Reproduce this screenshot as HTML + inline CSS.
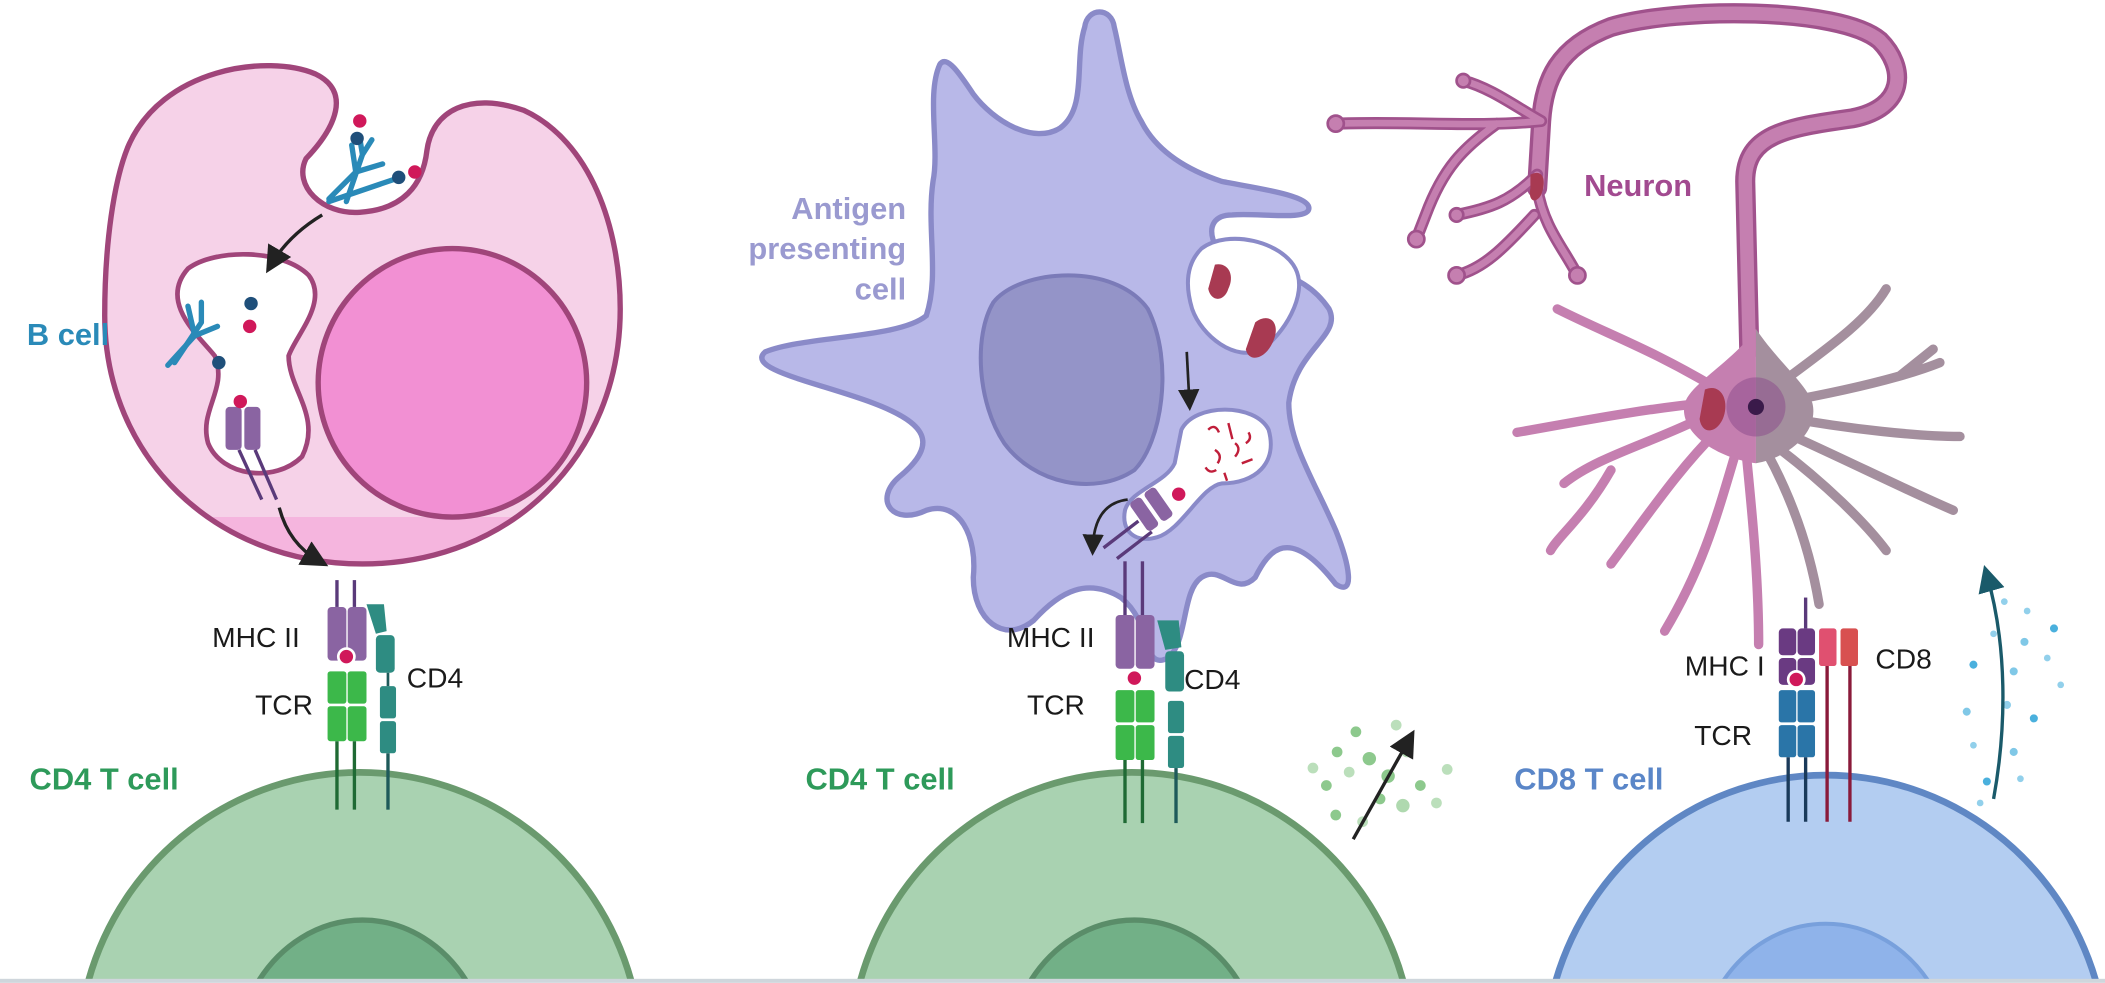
<!DOCTYPE html>
<html><head><meta charset="utf-8"><style>
html,body{margin:0;padding:0;background:#fff;width:2105px;height:983px;overflow:hidden;}
svg{display:block;overflow:hidden;}
text{font-family:"Liberation Sans",sans-serif;}
</style></head><body>
<svg width="2105" height="983" viewBox="0 0 1568 732" xmlns="http://www.w3.org/2000/svg">
<defs>
<marker id="ah" markerWidth="8" markerHeight="8" refX="5" refY="4" orient="auto" markerUnits="strokeWidth"><path d="M0,0 L8,4 L0,8 z" fill="#222"/></marker>
<marker id="ah2" markerWidth="8" markerHeight="8" refX="5" refY="4" orient="auto" markerUnits="strokeWidth"><path d="M0,0 L8,4 L0,8 z" fill="#1a5a6a"/></marker>
<clipPath id="bclip"><path id="bpath" d="M95,110 C120,50 200,40 235,55 C262,68 250,95 228,118 C218,138 240,160 268,158 C300,156 315,138 318,112 C322,82 350,68 390,82 C440,105 462,170 462,230 C462,340 380,420 270,420 C160,420 78,340 78,235 C78,180 85,135 95,110 Z"/></clipPath>
</defs>
<rect width="1568" height="732" fill="#fff"/>

<!-- T cells -->
<path d="M66,730 A210,213 0 0 1 470,730 Z" fill="#a9d2b1"/>
<path d="M66,730 A210,213 0 0 1 470,730" fill="none" stroke="#6a9a6e" stroke-width="5"/>
<path d="M193,730 A95,108 0 0 1 347,730 Z" fill="#72b087"/>
<path d="M193,730 A95,108 0 0 1 347,730" fill="none" stroke="#5a8d69" stroke-width="4"/>
<path d="M641,730 A210,213 0 0 1 1045,730 Z" fill="#a9d2b1"/>
<path d="M641,730 A210,213 0 0 1 1045,730" fill="none" stroke="#6a9a6e" stroke-width="5"/>
<path d="M768,730 A95,108 0 0 1 922,730 Z" fill="#72b087"/>
<path d="M768,730 A95,108 0 0 1 922,730" fill="none" stroke="#5a8d69" stroke-width="4"/>
<path d="M1159,730 A210,215 0 0 1 1561,730 Z" fill="#b3cdf1"/>
<path d="M1159,730 A210,215 0 0 1 1561,730" fill="none" stroke="#5f87c4" stroke-width="5"/>
<path d="M1284,730 A95,105 0 0 1 1436,730 Z" fill="#8fb3ea"/>
<path d="M1284,730 A95,105 0 0 1 1436,730" fill="none" stroke="#78a0dc" stroke-width="3"/>
<rect x="0" y="729" width="1568" height="3" fill="#cfd6dc"/>

<!-- B cell -->
<use href="#bpath" fill="#f6d2e8"/>
<rect x="60" y="385" width="420" height="50" fill="#f5b5de" clip-path="url(#bclip)"/>
<use href="#bpath" fill="none" stroke="#a0457a" stroke-width="4"/>
<circle cx="337" cy="285" r="100" fill="#f290d3" stroke="#a0457a" stroke-width="4"/>
<path d="M140,200 C160,185 210,185 230,205 C245,225 220,250 215,265 C215,290 240,310 225,340 C205,360 165,355 155,330 C148,305 170,290 160,265 C148,250 118,225 140,200 Z" fill="#fff" stroke="#a0457a" stroke-width="3.5"/>
<g stroke="#2a8ab8" stroke-width="4" fill="none" stroke-linecap="round">
<path d="M245,148 L265,128 M265,128 L262,108 M265,128 L285,122 M245,150 L298,132"/>
<path d="M258,150 L270,115 M270,115 L268,103 M270,115 L277,104"/>
<path d="M125,272 L145,250 M145,250 L140,228 M145,250 L162,243"/>
<path d="M130,270 L150,240 M150,240 L150,225"/>
</g>
<circle cx="268" cy="90" r="5" fill="#d0185a"/><circle cx="266" cy="103" r="5" fill="#1f4f7a"/>
<circle cx="309" cy="128" r="5" fill="#d0185a"/><circle cx="297" cy="132" r="5" fill="#1f4f7a"/>
<circle cx="187" cy="226" r="5" fill="#1f4f7a"/><circle cx="186" cy="243" r="5" fill="#d0185a"/><circle cx="163" cy="270" r="5" fill="#1f4f7a"/>
<g><rect x="168" y="303" width="12" height="32" rx="3" fill="#8a64a2"/><rect x="182" y="303" width="12" height="32" rx="3" fill="#8a64a2"/>
<line x1="178" y1="335" x2="195" y2="372" stroke="#5a3a7a" stroke-width="2.5"/><line x1="190" y1="335" x2="206" y2="372" stroke="#5a3a7a" stroke-width="2.5"/>
<circle cx="179" cy="299" r="5" fill="#d0185a"/></g>
<path d="M240,160 Q215,175 202,197" fill="none" stroke="#222" stroke-width="2.5" marker-end="url(#ah)"/>
<path d="M208,378 Q215,405 238,418" fill="none" stroke="#222" stroke-width="2.5" marker-end="url(#ah)"/>

<!-- APC -->
<path d="M700,48 C690,70 700,110 695,135 C690,170 700,205 690,235 C670,252 600,250 570,262 C555,275 610,285 650,300 C690,315 700,330 670,355 C650,372 665,392 690,380 C715,372 728,400 725,430 C725,462 748,480 770,462 C790,440 810,430 835,445 C860,465 850,500 870,490 C885,478 880,440 895,430 C910,420 920,445 935,430 C945,410 960,390 995,435 C1010,445 1005,420 995,395 C980,360 960,330 960,300 C965,260 1000,250 990,230 C970,200 935,200 925,200 C905,195 890,160 918,160 C935,158 975,165 975,155 C975,145 935,140 910,135 C880,125 860,110 850,90 C838,70 835,40 830,20 C828,5 810,5 808,20 C800,45 810,80 790,95 C770,108 740,90 725,70 C715,55 705,40 700,48 Z" fill="#b8b8e8" stroke="#8a8ac8" stroke-width="4"/>
<path d="M895,185 C915,170 955,180 965,200 C975,220 955,250 940,260 C920,270 895,250 888,230 C882,210 885,195 895,185 Z" fill="#fff" stroke="#8a8ac8" stroke-width="3"/>
<path d="M740,225 C760,200 830,195 855,230 C875,270 865,330 845,350 C815,370 770,360 748,330 C728,300 725,250 740,225 Z" fill="#9494c8" stroke="#7b7bb8" stroke-width="3"/>
<path d="M905,197 C915,195 920,205 915,215 C912,225 902,225 900,215 Z" fill="#a83a52"/>
<path d="M935,240 C945,232 955,240 948,255 C942,268 930,270 928,260 Z" fill="#a83a52"/>
<path d="M880,320 C890,300 935,300 945,320 C952,345 935,360 910,360 C895,362 880,395 862,400 C845,405 835,395 838,380 C842,365 868,360 875,345 Z" fill="#fff" stroke="#8a8ac8" stroke-width="3"/>
<g stroke="#c01e3a" stroke-width="1.8" fill="none"><path d="M900,320 q5,-5 8,2 M915,315 l3,12 M905,335 q6,4 2,10 M920,330 q5,4 0,10 M925,345 l8,-3 M898,348 q3,5 8,2 M930,322 q3,5 -2,8 M912,352 l2,6"/></g>
<g transform="rotate(-35 860 380)"><rect x="847" y="365" width="10" height="26" rx="3" fill="#8a64a2"/><rect x="860" y="365" width="10" height="26" rx="3" fill="#8a64a2"/></g>
<line x1="848" y1="388" x2="822" y2="408" stroke="#5a3a7a" stroke-width="2.5"/><line x1="858" y1="396" x2="832" y2="416" stroke="#5a3a7a" stroke-width="2.5"/>
<circle cx="878" cy="368" r="5" fill="#d0185a"/>
<path d="M884,262 L886,300" stroke="#222" stroke-width="2" marker-end="url(#ah)"/>
<path d="M840,372 Q815,375 814,408" fill="none" stroke="#222" stroke-width="2" marker-end="url(#ah)"/>

<!-- Neuron -->
<g fill="none" stroke="#c57fb0" stroke-linecap="round">
<path d="M1303,260 L1300,135 C1300,100 1330,95 1380,88 C1420,80 1420,50 1400,30 C1370,5 1250,5 1200,20 C1160,35 1150,60 1148,90 L1145,140" stroke="#a0528c" stroke-width="15"/>
<path d="M1303,260 L1300,135 C1300,100 1330,95 1380,88 C1420,80 1420,50 1400,30 C1370,5 1250,5 1200,20 C1160,35 1150,60 1148,90 L1145,140" stroke-width="10"/>
<g stroke="#a0528c" stroke-width="9"><path d="M1148,90 C1100,95 1050,90 995,92 M1115,92 C1090,110 1075,125 1062,160 M1062,160 L1055,178 M1145,130 C1125,150 1110,155 1085,160 M1145,140 C1150,170 1165,185 1175,205 M1143,160 C1120,185 1105,200 1085,205 M1148,90 C1130,80 1110,65 1090,60"/></g>
<g stroke-width="5"><path d="M1148,90 C1100,95 1050,90 995,92 M1115,92 C1090,110 1075,125 1062,160 M1062,160 L1055,178 M1145,130 C1125,150 1110,155 1085,160 M1145,140 C1150,170 1165,185 1175,205 M1143,160 C1120,185 1105,200 1085,205 M1148,90 C1130,80 1110,65 1090,60"/></g>
</g>
<g fill="#c57fb0" stroke="#a0528c" stroke-width="2"><circle cx="995" cy="92" r="6"/><circle cx="1055" cy="178" r="6"/><circle cx="1085" cy="160" r="5"/><circle cx="1175" cy="205" r="6"/><circle cx="1085" cy="205" r="6"/><circle cx="1090" cy="60" r="5"/></g>
<path d="M1140,130 C1150,125 1152,135 1148,145 C1144,152 1138,150 1140,140 Z" fill="#a83a52"/>
<g stroke-linecap="round" fill="none">
<g stroke="#c57fb0" stroke-width="7"><path d="M1280,290 C1230,260 1200,250 1160,230 M1270,300 C1220,305 1170,315 1130,322 M1270,310 C1230,330 1190,340 1165,360 M1280,320 C1250,350 1230,380 1200,420 M1295,330 C1280,380 1270,420 1240,470 M1300,330 C1305,380 1310,430 1310,480 M1200,350 C1180,385 1160,400 1155,410"/></g>
<g stroke="#a48f9e" stroke-width="7"><path d="M1320,290 C1360,260 1390,240 1405,215 M1325,300 C1380,290 1420,280 1445,270 M1325,310 C1380,320 1430,325 1460,325 M1325,320 C1370,340 1420,365 1455,380 M1320,330 C1360,360 1390,390 1405,410 M1315,335 C1340,380 1350,420 1355,450 M1415,280 L1440,260"/></g>
</g>
<path d="M1308,245 C1290,270 1260,285 1255,300 C1250,320 1275,340 1308,345 Z" fill="#c57fb0"/>
<path d="M1308,245 C1325,270 1345,285 1350,300 C1355,320 1335,340 1308,345 Z" fill="#a48f9e"/>
<circle cx="1308" cy="303" r="22" fill="#8a4a8a" opacity="0.5"/>
<circle cx="1308" cy="303" r="6" fill="#3a1a4a"/>
<path d="M1270,290 C1282,285 1288,298 1284,310 C1280,322 1268,325 1266,312 Z" fill="#a83a52"/>

<!-- left receptors -->
<g>
<line x1="251" y1="432" x2="251" y2="452" stroke="#5a3a7a" stroke-width="2.5"/><line x1="264" y1="432" x2="264" y2="452" stroke="#5a3a7a" stroke-width="2.5"/>
<rect x="244" y="452" width="14" height="40" rx="3" fill="#8a64a2"/><rect x="259" y="452" width="14" height="40" rx="3" fill="#8a64a2"/>
<circle cx="258" cy="489" r="7" fill="#fff"/><circle cx="258" cy="489" r="5" fill="#d0185a"/>
<rect x="244" y="500" width="14" height="24" rx="2" fill="#3cb84a"/><rect x="259" y="500" width="14" height="24" rx="2" fill="#3cb84a"/>
<rect x="244" y="526" width="14" height="26" rx="2" fill="#3cb84a"/><rect x="259" y="526" width="14" height="26" rx="2" fill="#3cb84a"/>
<line x1="251" y1="552" x2="251" y2="603" stroke="#1f6a34" stroke-width="2.5"/><line x1="264" y1="552" x2="264" y2="603" stroke="#1f6a34" stroke-width="2.5"/>
<path d="M273,450 L286,450 L288,470 L280,472 Z" fill="#2e8c82"/>
<rect x="280" y="473" width="14" height="28" rx="3" fill="#2e8c82"/>
<rect x="283" y="511" width="12" height="24" rx="2" fill="#2e8c82"/><rect x="283" y="537" width="12" height="24" rx="2" fill="#2e8c82"/>
<line x1="289" y1="501" x2="289" y2="511" stroke="#1e5a5a" stroke-width="2"/>
<line x1="289" y1="561" x2="289" y2="603" stroke="#1e5a5a" stroke-width="2.5"/>
</g>
<!-- middle receptors -->
<g>
<line x1="838" y1="418" x2="838" y2="458" stroke="#5a3a7a" stroke-width="2.5"/><line x1="851" y1="418" x2="851" y2="458" stroke="#5a3a7a" stroke-width="2.5"/>
<rect x="831" y="458" width="14" height="40" rx="3" fill="#8a64a2"/><rect x="846" y="458" width="14" height="40" rx="3" fill="#8a64a2"/>
<circle cx="845" cy="505" r="7" fill="#fff"/><circle cx="845" cy="505" r="5" fill="#d0185a"/>
<rect x="831" y="514" width="14" height="24" rx="2" fill="#3cb84a"/><rect x="846" y="514" width="14" height="24" rx="2" fill="#3cb84a"/>
<rect x="831" y="540" width="14" height="26" rx="2" fill="#3cb84a"/><rect x="846" y="540" width="14" height="26" rx="2" fill="#3cb84a"/>
<line x1="838" y1="566" x2="838" y2="613" stroke="#1f6a34" stroke-width="2.5"/><line x1="851" y1="566" x2="851" y2="613" stroke="#1f6a34" stroke-width="2.5"/>
<path d="M862,462 L878,462 L880,482 L868,484 Z" fill="#2e8c82"/>
<rect x="868" y="485" width="14" height="30" rx="3" fill="#2e8c82"/>
<rect x="870" y="522" width="12" height="24" rx="2" fill="#2e8c82"/><rect x="870" y="548" width="12" height="24" rx="2" fill="#2e8c82"/>
<line x1="876" y1="572" x2="876" y2="613" stroke="#1e5a5a" stroke-width="2.5"/>
</g>
<!-- right receptors -->
<g>
<line x1="1345" y1="445" x2="1345" y2="468" stroke="#5a3a7a" stroke-width="2.5"/>
<rect x="1325" y="468" width="13" height="20" rx="3" fill="#6a3a82"/><rect x="1339" y="468" width="13" height="20" rx="3" fill="#6a3a82"/>
<rect x="1325" y="490" width="13" height="20" rx="3" fill="#6a3a82"/><rect x="1339" y="490" width="13" height="20" rx="3" fill="#6a3a82"/>
<circle cx="1338" cy="506" r="7" fill="#fff"/><circle cx="1338" cy="506" r="5" fill="#d0185a"/>
<rect x="1325" y="514" width="13" height="24" rx="2" fill="#2a75a8"/><rect x="1339" y="514" width="13" height="24" rx="2" fill="#2a75a8"/>
<rect x="1325" y="540" width="13" height="24" rx="2" fill="#2a75a8"/><rect x="1339" y="540" width="13" height="24" rx="2" fill="#2a75a8"/>
<line x1="1332" y1="564" x2="1332" y2="612" stroke="#1a3a5a" stroke-width="2.5"/><line x1="1345" y1="564" x2="1345" y2="612" stroke="#1a3a5a" stroke-width="2.5"/>
<rect x="1355" y="468" width="13" height="28" rx="2" fill="#e05070"/><rect x="1371" y="468" width="13" height="28" rx="2" fill="#d85050"/>
<line x1="1361" y1="496" x2="1361" y2="612" stroke="#8a1a3a" stroke-width="2.5"/><line x1="1378" y1="496" x2="1378" y2="612" stroke="#8a1a3a" stroke-width="2.5"/>
</g>

<g fill="#8dc98d">
<circle cx="978" cy="572" r="4" opacity=".6"/><circle cx="996" cy="560" r="4"/><circle cx="1010" cy="545" r="4"/><circle cx="1020" cy="565" r="5"/><circle cx="988" cy="585" r="4"/><circle cx="1005" cy="575" r="4" opacity=".6"/><circle cx="1034" cy="578" r="5"/><circle cx="1048" cy="560" r="4" opacity=".7"/><circle cx="1058" cy="585" r="4"/><circle cx="1078" cy="573" r="4" opacity=".6"/><circle cx="1028" cy="595" r="4"/><circle cx="1045" cy="600" r="5" opacity=".7"/><circle cx="1070" cy="598" r="4" opacity=".6"/><circle cx="995" cy="607" r="4"/><circle cx="1015" cy="612" r="4" opacity=".6"/><circle cx="1040" cy="540" r="4" opacity=".6"/>
</g>
<path d="M1008,625 L1050,550" stroke="#222" stroke-width="2.5" marker-end="url(#ah)"/>
<g fill="#4ab0dd">
<circle cx="1493" cy="448" r="2.5" opacity=".6"/><circle cx="1510" cy="455" r="2.5" opacity=".6"/><circle cx="1530" cy="468" r="3"/><circle cx="1485" cy="472" r="2.5" opacity=".6"/><circle cx="1508" cy="478" r="3" opacity=".7"/><circle cx="1470" cy="495" r="3"/><circle cx="1500" cy="500" r="3" opacity=".7"/><circle cx="1525" cy="490" r="2.5" opacity=".6"/><circle cx="1535" cy="510" r="2.5" opacity=".6"/><circle cx="1465" cy="530" r="3" opacity=".7"/><circle cx="1495" cy="525" r="3" opacity=".6"/><circle cx="1515" cy="535" r="3"/><circle cx="1470" cy="555" r="2.5" opacity=".6"/><circle cx="1500" cy="560" r="3" opacity=".7"/><circle cx="1480" cy="582" r="3"/><circle cx="1505" cy="580" r="2.5" opacity=".6"/><circle cx="1475" cy="598" r="2.5" opacity=".6"/>
</g>
<path d="M1485,595 C1495,540 1495,480 1480,428" fill="none" stroke="#1a5a6a" stroke-width="2.5" marker-end="url(#ah2)"/>

<g font-size="21" fill="#1a1a1a">
<text x="158" y="482">MHC II</text><text x="190" y="532">TCR</text><text x="303" y="512">CD4</text>
<text x="750" y="482">MHC II</text><text x="765" y="532">TCR</text><text x="882" y="513">CD4</text>
<text x="1255" y="503">MHC I</text><text x="1262" y="555">TCR</text><text x="1397" y="498">CD8</text>
</g>
<g font-weight="bold" font-size="23">
<text x="20" y="257" fill="#2a8ab8">B cell</text>
<text x="22" y="588" fill="#2e9a5a">CD4 T cell</text>
<text x="600" y="588" fill="#2e9a5a">CD4 T cell</text>
<text x="1128" y="588" fill="#5a86c8">CD8 T cell</text>
<text x="1180" y="146" fill="#a24a90">Neuron</text>
<g fill="#9a9ad0" text-anchor="end"><text x="675" y="163">Antigen</text><text x="675" y="193">presenting</text><text x="675" y="223">cell</text></g>
</g>
</svg>
</body></html>
